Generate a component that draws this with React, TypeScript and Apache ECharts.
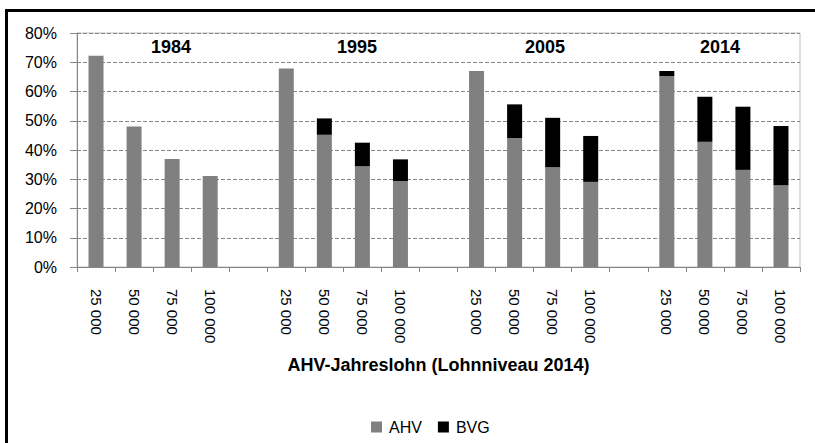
import React, { useEffect, useRef } from "react";
import * as echarts from "echarts";

const categories = [
  "25 000", "50 000", "75 000", "100 000", "",
  "25 000", "50 000", "75 000", "100 000", "",
  "25 000", "50 000", "75 000", "100 000", "",
  "25 000", "50 000", "75 000", "100 000",
];
const ahv = [
  72.2, 48.0, 36.9, 31.1, null,
  67.9, 45.2, 34.5, 29.4, null,
  67.0, 44.1, 34.1, 29.1, null,
  65.3, 42.8, 33.2, 28.0,
];
const bvg = [
  null, null, null, null, null,
  null, 5.6, 8.0, 7.4, null,
  null, 11.5, 16.9, 15.7, null,
  1.7, 15.4, 21.6, 20.2,
];
const years = ["1984", "1995", "2005", "2014"];
const yearX = [171, 357, 545, 720];
const axisTitle = "AHV-Jahreslohn (Lohnniveau 2014)";

const FONT = "'Liberation Sans', Arial, sans-serif";

export default function App() {
  const ref = useRef<HTMLDivElement>(null);
  useEffect(() => {
    if (!ref.current) return;
    const chart = echarts.init(ref.current, null, { renderer: "svg" });
    chart.setOption({
      animation: false,
      backgroundColor: "#ffffff",
      textStyle: { fontFamily: FONT },
      grid: { left: 77, right: 15, top: 33, bottom: 176, show: true, borderColor: "#bfbfbf", borderWidth: 1 },
      legend: {
        left: 366,
        top: 414,
        itemWidth: 11,
        itemHeight: 11,
        itemGap: 16,
        icon: "rect",
        textStyle: { fontSize: 16, color: "#000", fontFamily: FONT, padding: [0, 0, 0, 2] },
        data: ["AHV", "BVG"],
      },
      xAxis: {
        type: "category",
        data: categories,
        name: axisTitle,
        nameLocation: "middle",
        nameGap: 89,
        nameTextStyle: { fontSize: 18, fontWeight: "bold", color: "#000", fontFamily: FONT },
        axisLine: { lineStyle: { color: "#868686", width: 1 } },
        axisTick: { show: true, alignWithLabel: false, length: 5, lineStyle: { color: "#868686" } },
        axisLabel: { rotate: -90, margin: 22, fontSize: 15, color: "#000", interval: 0, fontFamily: FONT },
      },
      yAxis: {
        type: "value",
        min: 0,
        max: 80,
        interval: 10,
        axisLine: { show: true, lineStyle: { color: "#868686", width: 1 } },
        axisTick: { show: true, length: 7, lineStyle: { color: "#868686" } },
        axisLabel: { formatter: "{value}%", fontSize: 16, color: "#000", margin: 20, fontFamily: FONT },
        splitLine: { show: true, lineStyle: { color: "#868686", type: [4, 2], width: 1 } },
      },
      series: [
        {
          name: "AHV",
          type: "bar",
          stack: "total",
          barWidth: 15,
          itemStyle: { color: "#808080" },
          data: ahv,
        },
        {
          name: "BVG",
          type: "bar",
          stack: "total",
          barWidth: 15,
          itemStyle: { color: "#000000" },
          data: bvg,
        },
      ],
      graphic: [
        { type: "rect", shape: { x: 5, y: 9, width: 810, height: 3 }, style: { fill: "#000" } },
        { type: "rect", shape: { x: 5, y: 9, width: 3, height: 434 }, style: { fill: "#000" } },
        ...years.map((y, i) => ({
          type: "text",
          x: yearX[i],
          y: 47,
          style: {
            text: y,
            fontSize: 18,
            fontWeight: "bold",
            fontFamily: FONT,
            fill: "#000",
            align: "center",
            verticalAlign: "middle",
          },
        })),
      ],
    });
    return () => chart.dispose();
  }, []);
  return <div ref={ref} style={{ position: "absolute", left: 0, top: 0, width: 815, height: 443 }} />;
}
